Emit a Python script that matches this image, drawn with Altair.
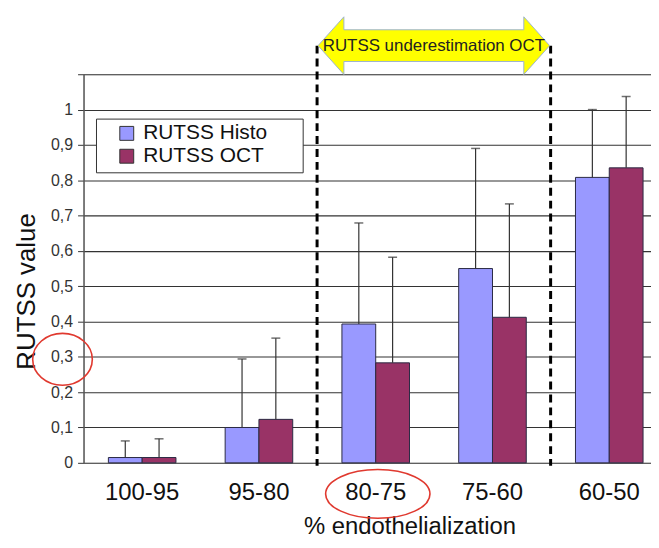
import altair as alt
import pandas as pd

# ---- data ----
categories = ["100-95", "95-80", "80-75", "75-60", "60-50"]
series_names = ["RUTSS Histo", "RUTSS OCT"]
histo_values = [0.015, 0.100, 0.393, 0.550, 0.808]
histo_upper = [0.062, 0.294, 0.679, 0.890, 1.000]
oct_values = [0.015, 0.123, 0.283, 0.412, 0.835]
oct_upper = [0.068, 0.353, 0.582, 0.733, 1.037]
series_colors = ["#9999FF", "#993366"]
y_ticks = [0.0, 0.1, 0.2, 0.3, 0.4, 0.5, 0.6, 0.7, 0.8, 0.9, 1.0, 1.1]

# ---- annotations (x in category-slot units, y in RUTSS units) ----
bracket_x = [2, 4]
bracket_top = [1.181, 1.181]
bracket_bottom = [-0.008, -0.008]
arrow_label = ["RUTSS underestimation OCT"]
arrow_x = [3]
arrow_y = [1.181]
circle1_x, circle1_y = [-0.18], [0.293]
circle2_x, circle2_y = [2.52], [-0.088]
legend_box_x, legend_box_x2 = [0.111], [1.881]
legend_box_y, legend_box_y2 = [0.973], [0.821]

FONT = "Liberation Sans"
PLOT_W = 571
STEP = 117.5          # width of one category slot (px)
FIRST = 25.0          # left edge of first bar group from the axis (px)
P_INNER = 1 - 68 / STEP
N = len(categories)
P_OUTER = (PLOT_W / STEP - (N - P_INNER)) / 2
ALIGN = FIRST / (PLOT_W - STEP * (N - P_INNER))
SLOTS_VISIBLE = PLOT_W / STEP
Y_SCALE = alt.Scale(domain=[0, 1.1], nice=False, zero=False)

rows = []
for i, c in enumerate(categories):
    rows.append({"cat": c, "series": series_names[0], "value": histo_values[i], "upper": histo_upper[i]})
    rows.append({"cat": c, "series": series_names[1], "value": oct_values[i], "upper": oct_upper[i]})
df = pd.DataFrame(rows)

x_enc = alt.X(
    "cat:N", sort=categories,
    scale=alt.Scale(paddingInner=P_INNER, paddingOuter=P_OUTER, align=ALIGN),
    axis=alt.Axis(
        title="% endothelialization", labelAngle=0, ticks=False, domain=False,
        labelFontSize=24, labelColor="#111", labelPadding=18, labelFont=FONT,
        titleFontSize=24, titleFontWeight="normal", titleColor="#111", titlePadding=10, titleFont=FONT,
        titleX=328, titleAlign="center", titleAnchor="start", grid=False,
    ),
)
xo_enc = alt.XOffset("series:N", sort=series_names)

y_axis = alt.Axis(
    values=y_ticks, tickCount=12, grid=True, gridColor="#333", gridWidth=1.1,
    labelOverlap=False,
    labelExpr="datum.value > 1.05 ? '' : replace(format(datum.value, '.1~f'), '.', ',')",
    labelFontSize=16, labelColor="#333", labelFont=FONT, labelPadding=5,
    tickColor="#333", tickSize=6, domainColor="#555", domainWidth=1.5,
    title="RUTSS value", titleFontSize=26, titleFontWeight="normal", titleColor="#111", titleFont=FONT,
    titleAngle=-90, titleX=-49, titleY=218, titleAlign="center", titleBaseline="alphabetic",
)


def Y(field):
    return alt.Y(field, scale=Y_SCALE, axis=y_axis)


bars = alt.Chart(df).mark_bar(stroke="#2a2a44", strokeWidth=1, clip=False).encode(
    x=x_enc,
    xOffset=xo_enc,
    y=Y("value:Q"),
    color=alt.Color(
        "series:N", sort=series_names,
        scale=alt.Scale(domain=series_names, range=series_colors),
        legend=alt.Legend(
            orient="none", legendX=33, legendY=49, title=None, padding=0,
            symbolType="square", symbolSize=196, symbolStrokeColor="#333", symbolStrokeWidth=1,
            labelFont=FONT, labelFontSize=21, labelColor="#111",
            labelOffset=6, rowPadding=1,
        ),
    ),
)

whisk = alt.Chart(df).mark_rule(color="#333", strokeWidth=1.2, clip=False).encode(
    x=x_enc, xOffset=xo_enc, y=Y("value:Q"), y2="upper:Q",
)
caps = alt.Chart(df).mark_tick(color="#333", size=9, thickness=1.5, clip=False).encode(
    x=x_enc, xOffset=xo_enc, y=Y("upper:Q"),
)

main = alt.layer(bars, whisk, caps)

AX = alt.X("ax:Q", scale=alt.Scale(domain=[0, SLOTS_VISIBLE], nice=False, zero=False), axis=None)

box_df = pd.DataFrame({"ax": legend_box_x, "ax2": legend_box_x2, "ay": legend_box_y, "ay2": legend_box_y2})
legend_box = alt.Chart(box_df).mark_rect(fill="white", stroke="#333", strokeWidth=1, clip=False).encode(
    x=AX, x2="ax2:Q", y=Y("ay:Q"), y2="ay2:Q",
)

dash_df = pd.DataFrame({"ax": bracket_x, "top": bracket_top, "bottom": bracket_bottom})
dashes = alt.Chart(dash_df).mark_rule(color="black", strokeWidth=3, strokeDash=[8, 5], clip=False).encode(
    x=AX, y=Y("top:Q"), y2="bottom:Q",
)

arrow_path = ("M -1 0 L -0.777 -0.249 L -0.777 -0.137 L 0.777 -0.137 L 0.777 -0.249 L 1 0 "
              "L 0.777 0.249 L 0.777 0.137 L -0.777 0.137 L -0.777 0.249 Z")
arrow_df = pd.DataFrame({"ax": arrow_x, "ay": arrow_y, "label": arrow_label})
arrow = alt.Chart(arrow_df).mark_point(
    shape=arrow_path, size=233 * 233, filled=True, fill="#FFFF00", fillOpacity=1,
    stroke="#9db4cf", strokeWidth=1, opacity=1, clip=False,
).encode(x=AX, y=Y("ay:Q"))
arrow_text = alt.Chart(arrow_df).mark_text(
    font=FONT, fontSize=17, color="#222", align="center", baseline="middle", clip=False,
).encode(x=AX, y=Y("ay:Q"), text="label:N")

ell1 = "M -1 0 A 1 0.87 0 1 0 1 0 A 1 0.87 0 1 0 -1 0 Z"
ell2 = "M -1 0 A 1 0.467 0 1 0 1 0 A 1 0.467 0 1 0 -1 0 Z"
c1 = alt.Chart(pd.DataFrame({"ax": circle1_x, "ay": circle1_y})).mark_point(
    shape=ell1, size=60 * 60, filled=False, stroke="#e0392f", strokeWidth=1.6, opacity=1, clip=False,
).encode(x=AX, y=Y("ay:Q"))
c2 = alt.Chart(pd.DataFrame({"ax": circle2_x, "ay": circle2_y})).mark_point(
    shape=ell2, size=105 * 105, filled=False, stroke="#e0392f", strokeWidth=1.6, opacity=1, clip=False,
).encode(x=AX, y=Y("ay:Q"))

annot = alt.layer(legend_box, dashes, arrow, arrow_text, c1, c2)

chart = (
    alt.layer(main, annot)
    .resolve_scale(x="independent")
    .properties(width=PLOT_W, height=391, padding={"left": 6, "top": 5, "right": 0, "bottom": 0})
    .configure_view(fill="#C0C0C0", strokeWidth=0)
    .configure(font=FONT, background="white")
)

chart.save("out.html", embed_options={"renderer": "svg", "actions": False})
